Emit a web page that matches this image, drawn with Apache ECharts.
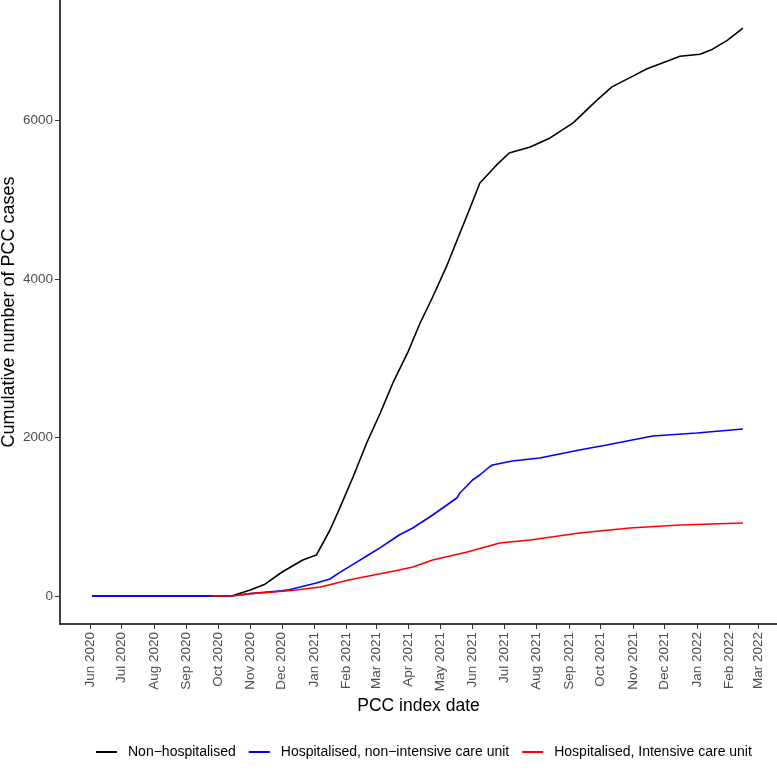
<!DOCTYPE html>
<html>
<head>
<meta charset="utf-8">
<script src="https://cdn.jsdelivr.net/npm/echarts@6/dist/echarts.min.js"></script>
<style>
  html, body { margin: 0; padding: 0; background: #fff; }
  #chart { width: 777px; height: 777px; }
</style>
</head>
<body>
<div id="chart"></div>
<script>
// month ticks on the x axis
var tickDates = ['2020-06-01', '2020-07-01', '2020-08-01', '2020-09-01', '2020-10-01', '2020-11-01',
  '2020-12-01', '2021-01-01', '2021-02-01', '2021-03-01', '2021-04-01', '2021-05-01', '2021-06-01',
  '2021-07-01', '2021-08-01', '2021-09-01', '2021-10-01', '2021-11-01', '2021-12-01', '2022-01-01',
  '2022-02-01', '2022-03-01'];
var tickLabels = ['Jun 2020', 'Jul 2020', 'Aug 2020', 'Sep 2020', 'Oct 2020', 'Nov 2020',
  'Dec 2020', 'Jan 2021', 'Feb 2021', 'Mar 2021', 'Apr 2021', 'May 2021', 'Jun 2021',
  'Jul 2021', 'Aug 2021', 'Sep 2021', 'Oct 2021', 'Nov 2021', 'Dec 2021', 'Jan 2022',
  'Feb 2022', 'Mar 2022'];
var yTicks = [0, 2000, 4000, 6000];

// Non-hospitalised
var nonHospDates = ['2020-06-03', '2020-10-14', '2020-11-01', '2020-11-15', '2020-12-01', '2020-12-21',
  '2021-01-03', '2021-01-16', '2021-01-25', '2021-02-07', '2021-02-20', '2021-03-05', '2021-03-17',
  '2021-03-31', '2021-04-12', '2021-04-24', '2021-05-07', '2021-05-20', '2021-05-30', '2021-06-08',
  '2021-06-24', '2021-07-06', '2021-07-26', '2021-08-14', '2021-09-05', '2021-09-11', '2021-09-28',
  '2021-10-12', '2021-11-01', '2021-11-14', '2021-12-16', '2022-01-04', '2022-01-16', '2022-01-30',
  '2022-02-14'];
var nonHospValues = [0, 0, 76, 150, 300, 454,
  517, 833, 1100, 1502, 1931, 2309, 2688,
  3067, 3445, 3773, 4152, 4581, 4909, 5212,
  5439, 5590, 5666, 5780, 5969, 6045, 6260,
  6424, 6560, 6650, 6810, 6835, 6900, 7010,
  7165];

// Hospitalised, non-intensive care unit
var nonIcuDates = ['2020-06-03', '2020-10-14', '2020-11-01', '2020-12-01', '2020-12-08', '2021-01-03',
  '2021-01-16', '2021-01-25', '2021-02-07', '2021-02-20', '2021-03-05', '2021-03-23', '2021-04-05',
  '2021-04-24', '2021-05-17', '2021-05-20', '2021-06-01', '2021-06-08', '2021-06-17', '2021-06-20',
  '2021-07-09', '2021-08-04', '2021-09-11', '2021-10-07', '2021-11-20', '2022-01-01', '2022-02-14'];
var nonIcuValues = [0, 0, 30, 65, 80, 164,
  215, 295, 400, 505, 610, 770, 858,
  1022, 1237, 1300, 1464, 1527, 1628, 1653,
  1704, 1741, 1843, 1906, 2019, 2057, 2107];

// Hospitalised, Intensive care unit
var icuDates = ['2020-09-25', '2020-10-14', '2020-11-01', '2020-12-02', '2020-12-15', '2021-01-07',
  '2021-02-04', '2021-03-05', '2021-03-23', '2021-04-05', '2021-04-24', '2021-05-23', '2021-05-27',
  '2021-06-27', '2021-07-26', '2021-09-11', '2021-10-29', '2021-12-16', '2022-02-14'];
var icuValues = [0, 0, 30, 60, 76, 114,
  205, 280, 328, 366, 454, 543, 555,
  669, 707, 795, 858, 896, 921];

// x values are timestamps on a plain value axis
function pairs(dates, values) {
  return dates.map(function (d, i) { return [Date.parse(d), values[i]]; });
}

var tickTimes = tickDates.map(function (d) { return Date.parse(d); });
var font = 'Liberation Sans, Arial, sans-serif';

function lineSeries(name, color, dates, values) {
  return {
    name: name,
    type: 'line',
    showSymbol: false,
    symbol: 'none',
    lineStyle: { color: color, width: 1.6 },
    itemStyle: { color: color },
    data: pairs(dates, values)
  };
}

var chart = echarts.init(document.getElementById('chart'), null, { renderer: 'canvas' });
chart.setOption({
  animation: false,
  backgroundColor: '#fff',
  grid: { left: 60, right: 0, top: 0, bottom: 153, containLabel: false, outerBoundsMode: 'none' },
  legend: {
    bottom: 13,
    left: 91,
    itemWidth: 21,
    itemHeight: 2,
    itemGap: 13,
    icon: 'rect',
    textStyle: { fontFamily: font, fontSize: 14, color: '#000', padding: [0, 0, 0, 6] },
    data: ['Non\u2212hospitalised', 'Hospitalised, non\u2212intensive care unit', 'Hospitalised, Intensive care unit']
  },
  xAxis: {
    type: 'value',
    min: Date.parse('2020-05-03T10:00:00Z'),
    max: Date.parse('2022-03-18T12:00:00Z'),
    name: 'PCC index date',
    nameLocation: 'middle',
    nameGap: 73,
    nameMoveOverlap: false,
    nameTextStyle: { fontFamily: font, fontSize: 17.5, color: '#000', verticalAlign: 'top' },
    axisLine: { onZero: false, lineStyle: { color: '#000', width: 1.5 } },
    axisTick: { show: true, length: 5, customValues: tickTimes, lineStyle: { color: '#333', width: 1 } },
    axisLabel: {
      customValues: tickTimes,
      rotate: 90,
      margin: 8,
      fontFamily: font,
      fontSize: 13.5,
      color: '#4d4d4d',
      formatter: function (v) {
        var i = tickTimes.indexOf(v);
        return i >= 0 ? tickLabels[i] : '';
      }
    },
    splitLine: { show: false }
  },
  yAxis: {
    type: 'value',
    min: -353,
    max: 7520,
    name: 'Cumulative number of PCC cases',
    nameLocation: 'middle',
    nameGap: 42,
    nameMoveOverlap: false,
    nameTextStyle: { fontFamily: font, fontSize: 18, color: '#000' },
    axisLine: { show: true, onZero: false, lineStyle: { color: '#000', width: 1.5 } },
    axisTick: { show: true, length: 5, customValues: yTicks, lineStyle: { color: '#333', width: 1 } },
    axisLabel: {
      customValues: yTicks, margin: 7, fontFamily: font, fontSize: 13.5, color: '#4d4d4d',
      formatter: function (v) { return String(v); }
    },
    splitLine: { show: false }
  },
  series: [
    lineSeries('Non\u2212hospitalised', '#000000', nonHospDates, nonHospValues),
    lineSeries('Hospitalised, non\u2212intensive care unit', '#0000ff', nonIcuDates, nonIcuValues),
    lineSeries('Hospitalised, Intensive care unit', '#ff0000', icuDates, icuValues)
  ]
});
</script>
</body>
</html>
